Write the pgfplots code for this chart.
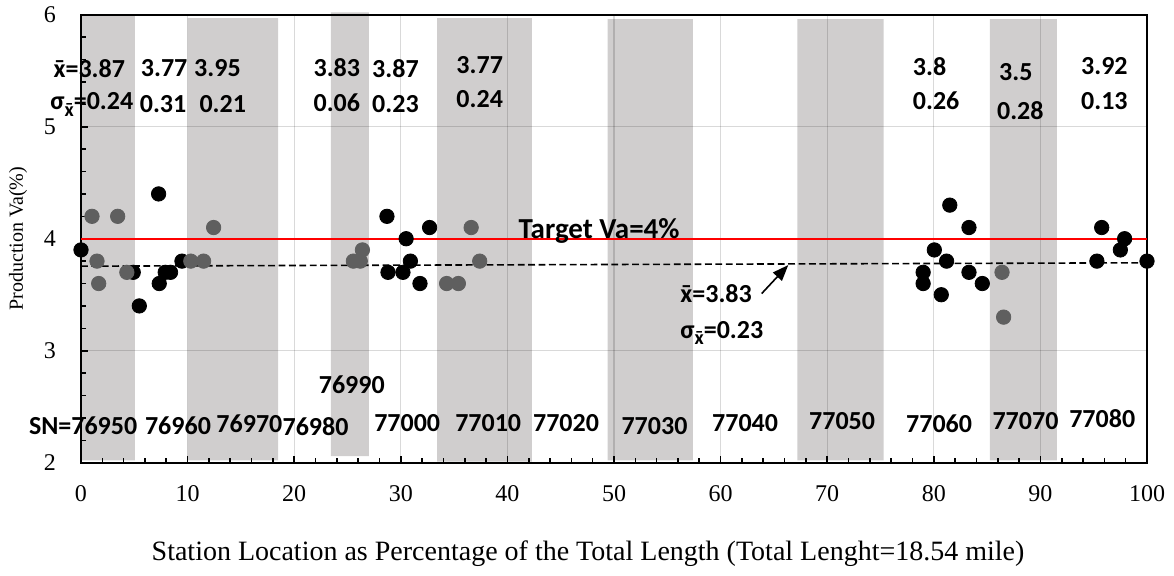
\documentclass[border=0pt]{standalone}
\usepackage{pgfplots}
\pgfplotsset{compat=1.18}
\usepackage{pgfplotstable}
\usepackage{fontspec}
\setmainfont{Liberation Serif}
\newfontfamily\calibri{Carlito}
\usetikzlibrary{arrows.meta}

\definecolor{band}{HTML}{D0CECE}
\definecolor{ptgray}{HTML}{5F5F5F}

% x with a bar, and sigma with x-bar subscript
\newcommand{\xbar}{\ooalign{x\cr\hidewidth¯\hidewidth\cr}}
\newcommand{\sig}{σ\raisebox{-0.5ex}{\fontsize{10}{10}\selectfont\xbar}}

\pgfplotstableread{
x y
0 3.9
4.9 3.7
5.47 3.4
7.28 4.4
7.34 3.6
7.9 3.7
8.4 3.7
9.47 3.8
28.7 4.2
28.8 3.7
30.2 3.7
30.5 4.0
30.9 3.8
31.8 3.6
32.7 4.1
79.0 3.7
79.0 3.6
80.05 3.9
80.7 3.5
81.5 4.3
81.2 3.8
83.3 4.1
83.3 3.7
84.55 3.6
95.3 3.8
95.75 4.1
97.5 3.9
97.9 4.0
100 3.8
}\blackpts

\pgfplotstableread{
x y
1.03 4.2
3.44 4.2
1.5 3.8
1.66 3.6
4.3 3.7
10.3 3.8
11.5 3.8
12.44 4.1
25.55 3.8
26.2 3.8
26.4 3.9
34.3 3.6
35.4 3.6
36.6 4.1
37.4 3.8
86.4 3.7
86.55 3.3
}\graypts

\tikzset{lab/.style={font=\calibri\bfseries\fontsize{13}{15}\selectfont, inner sep=0pt}}

\begin{document}
\begin{tikzpicture}
\begin{axis}[
    name=ax,
    set layers,
    scale only axis,
    width=533pt, height=224pt,
    xmin=0, xmax=100, ymin=2, ymax=6,
    xtick={0,10,...,100}, ytick={2,3,4,5,6},
    minor x tick num=4, minor y tick num=4,
    xtick pos=left, ytick pos=left,
    tick align=inside,
    major tick length=3.5pt, minor tick length=2.5pt,
    grid=major,
    grid style={black, opacity=0.15, line width=0.6pt},
    axis line style={line width=0.9pt},
    tick style={black, line width=0.8pt},
    ticklabel style={font=\fontsize{12}{14}\selectfont},
    /pgf/number format/assume math mode=true,
    yticklabel style={xshift=-9pt},
    xticklabel style={yshift=-8pt},
    clip=false,
]
% shaded sections
\addplot[on layer=axis background, fill=band, draw=none] coordinates {(0,2.02) (5.05,2.02) (5.05,6) (0,6) (0,2.02)};
\addplot[on layer=axis background, fill=band, draw=none] coordinates {(10.0,2.02) (18.5,2.02) (18.5,5.97) (10.0,5.97) (10.0,2.02)};
\addplot[on layer=axis background, fill=band, draw=none] coordinates {(23.45,2.06) (27.0,2.06) (27.0,6.02) (23.45,6.02) (23.45,2.06)};
\addplot[on layer=axis background, fill=band, draw=none] coordinates {(33.4,2.01) (42.3,2.01) (42.3,5.97) (33.4,5.97) (33.4,2.01)};
\addplot[on layer=axis background, fill=band, draw=none] coordinates {(49.4,2.02) (57.4,2.02) (57.4,5.96) (49.4,5.96) (49.4,2.02)};
\addplot[on layer=axis background, fill=band, draw=none] coordinates {(67.2,2.02) (75.3,2.02) (75.3,5.96) (67.2,5.96) (67.2,2.02)};
\addplot[on layer=axis background, fill=band, draw=none] coordinates {(85.25,2.02) (91.55,2.02) (91.55,5.96) (85.25,5.96) (85.25,2.02)};

% target and mean lines
\addplot[red, line width=1pt] coordinates {(0,4) (100,4)};
\addplot[black, line width=0.8pt, dash pattern=on 3.4pt off 1.8pt] coordinates {(0,3.755) (100,3.785)};

% measurements
\addplot[only marks, mark=*, mark size=3.6pt, black, mark options={draw=none, fill=black}] table {\blackpts};
\addplot[only marks, mark=*, mark size=3.6pt, ptgray, mark options={draw=none, fill=ptgray}] table {\graypts};

% section means and deviations
\node[lab, anchor=west] at (axis cs:-2.6,5.52) {\xbar=3.87};
\node[lab, anchor=west] at (axis cs:-2.9,5.2) {\sig=0.24};
\node[lab] at (axis cs:7.8,5.52) {3.77};
\node[lab] at (axis cs:7.7,5.2) {0.31};
\node[lab] at (axis cs:12.8,5.52) {3.95};
\node[lab] at (axis cs:13.3,5.2) {0.21};
\node[lab] at (axis cs:24.0,5.53) {3.83};
\node[lab] at (axis cs:24.0,5.21) {0.06};
\node[lab] at (axis cs:29.5,5.52) {3.87};
\node[lab] at (axis cs:29.5,5.2) {0.23};
\node[lab] at (axis cs:37.4,5.55) {3.77};
\node[lab] at (axis cs:37.4,5.25) {0.24};
\node[lab, anchor=west] at (axis cs:78.0,5.54) {3.8};
\node[lab, anchor=west] at (axis cs:78.0,5.23) {0.26};
\node[lab, anchor=west] at (axis cs:86.1,5.49) {3.5};
\node[lab, anchor=west] at (axis cs:85.9,5.14) {0.28};
\node[lab] at (axis cs:96.0,5.54) {3.92};
\node[lab] at (axis cs:96.0,5.23) {0.13};

% station numbers
\node[lab] at (axis cs:0.2,2.33) {SN=76950};
\node[lab] at (axis cs:9.1,2.33) {76960};
\node[lab] at (axis cs:15.8,2.35) {76970};
\node[lab] at (axis cs:22.0,2.32) {76980};
\node[lab] at (axis cs:25.4,2.70) {76990};
\node[lab] at (axis cs:30.6,2.35) {77000};
\node[lab] at (axis cs:38.2,2.35) {77010};
\node[lab] at (axis cs:45.5,2.35) {77020};
\node[lab] at (axis cs:53.8,2.33) {77030};
\node[lab] at (axis cs:62.3,2.35) {77040};
\node[lab] at (axis cs:71.4,2.37) {77050};
\node[lab] at (axis cs:80.5,2.35) {77060};
\node[lab] at (axis cs:88.6,2.37) {77070};
\node[lab] at (axis cs:95.8,2.39) {77080};

% overall
\node[lab, font=\calibri\bfseries\fontsize{14.5}{16}\selectfont] at (axis cs:48.6,4.07) {Target Va=4\%};
\node[lab, anchor=west] at (axis cs:56.2,3.51) {\xbar=3.83};
\node[lab, anchor=west] at (axis cs:56.2,3.16) {\sig=0.23};
\draw[-{Triangle[length=8pt,width=6pt]}, line width=0.8pt] (axis cs:63.85,3.51) -- (axis cs:66.35,3.765);
\end{axis}
\node[rotate=90, font=\fontsize{10}{12}\selectfont] at ([xshift=-31.5pt]ax.west) {Production Va(\%)};
\node[font=\fontsize{14}{16}\selectfont] at ([xshift=-13pt,yshift=-45.5pt]ax.south) {Station Location as Percentage of the Total Length (Total Lenght=18.54 mile)};
\path ([xshift=-40.5pt,yshift=-56.5pt]ax.south west) rectangle ([xshift=13.5pt,yshift=7pt]ax.north east);
\end{tikzpicture}
\end{document}
